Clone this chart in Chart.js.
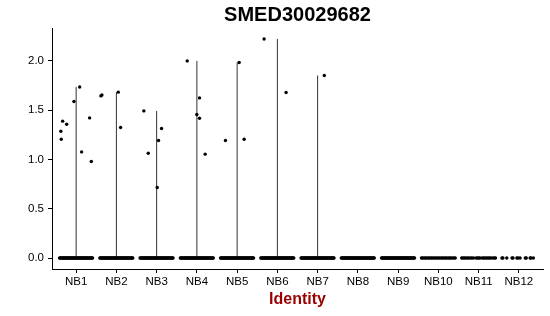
<!DOCTYPE html>
<html>
<head>
<meta charset="utf-8">
<script src="https://cdn.jsdelivr.net/npm/chart.js@4.4.1/dist/chart.umd.min.js"></script>
<style>
  html, body { margin: 0; padding: 0; background: #fff; }
  #wrap { width: 550px; height: 316px; }
</style>
</head>
<body>
<div id="wrap"><canvas id="c" width="550" height="316"></canvas></div>
<script>
// ---- data ----
const categories = ['NB1','NB2','NB3','NB4','NB5','NB6','NB7','NB8','NB9','NB10','NB11','NB12'];
const yTicks = [0, 0.5, 1.0, 1.5, 2.0];
const violinMax = [1.736, 1.683, 1.493, 2.0, 1.984, 2.223, 1.852, 0, 0, 0, 0, 0];

// non-zero cells: cluster index (1-based), expression value, jitter offset
const exprCluster = [1,1,1,1,1,1,1,1,1, 2,2,2,2, 3,3,3,3,3, 4,4,4,4,4, 5,5,5, 6,6, 7];
const exprValue = [1.206,1.287,1.389,1.358,1.588,1.736,1.077,1.422,0.980,
                   1.645,1.655,1.683,1.325,
                   1.493,1.064,1.193,1.314,0.716,
                   2.000,1.625,1.456,1.419,1.054,
                   1.193,1.984,1.206,
                   2.223,1.679,
                   1.852];
const exprJitter = [-0.37,-0.38,-0.335,-0.235,-0.055,0.087,0.136,0.335,0.377,
                    -0.385,-0.36,0.047,0.104,
                    -0.318,-0.208,0.047,0.122,0.015,
                    -0.24,0.065,-0.002,0.065,0.206,
                    -0.29,0.05,0.174,
                    -0.33,0.216,
                    0.166];

// zero-expression cells: jitter offsets per cluster
const denseJitter = [-0.412,-0.395,-0.377,-0.361,-0.342,-0.324,-0.309,-0.29,-0.272,-0.255,-0.238,
  -0.221,-0.203,-0.186,-0.168,-0.151,-0.133,-0.117,-0.098,-0.081,-0.063,-0.046,-0.029,-0.011,
  0.006,0.024,0.041,0.059,0.077,0.093,0.111,0.128,0.146,0.163,0.181,0.198,0.216,0.233,0.251,
  0.268,0.286,0.303,0.321,0.338,0.356,0.373,0.391,0.408];
const nb10Jitter = [-0.42,-0.39,-0.355,-0.32,-0.29,-0.25,-0.22,-0.18,-0.15,-0.11,-0.075,-0.04,
  -0.005,0.03,0.07,0.1,0.14,0.175,0.205,0.245,0.28,0.31,0.35,0.385,0.42];
const nb11Jitter = [-0.42,-0.39,-0.355,-0.32,-0.28,-0.245,-0.2,-0.165,-0.125,
  -0.06,-0.03,0.005,0.035,0.09,0.125,0.16,0.2,0.235,0.27,0.305,0.35,0.39,0.42];
const nb12Jitter = [-0.42,-0.395,-0.30,-0.17,-0.145,-0.05,-0.02,0.03,0.16,0.185,0.28,0.30,0.36];
const zeroJitter = [denseJitter,denseJitter,denseJitter,denseJitter,denseJitter,denseJitter,
  denseJitter,denseJitter,denseJitter,nb10Jitter,nb11Jitter,nb12Jitter];

// ---- build datasets ----
const FONT = '"Liberation Sans", Arial, Helvetica, sans-serif';
Chart.defaults.font.family = FONT;

const zeroPts = [];
zeroJitter.forEach((arr, i) => arr.forEach(o => zeroPts.push({x: i + 1 + o, y: 0})));
const exprPts = exprValue.map((v, k) => ({x: exprCluster[k] + exprJitter[k], y: v}));

const datasets = [
  {type: 'scatter', data: exprPts, backgroundColor: '#000', borderWidth: 0, pointRadius: 1.7, order: 0},
  {type: 'scatter', data: zeroPts, backgroundColor: '#000', borderWidth: 0, pointRadius: 1.7, order: 1}
];
violinMax.forEach((m, i) => {
  if (m > 0) {
    datasets.push({
      type: 'line',
      data: [{x: i + 1, y: 0}, {x: i + 1, y: m}],
      borderColor: '#333', borderWidth: 1, pointRadius: 0, fill: false, order: 2
    });
  }
});

new Chart(document.getElementById('c'), {
  data: {datasets},
  options: {
    responsive: false,
    animation: false,
    devicePixelRatio: 1,
    layout: {padding: {left: 0, right: 7, top: 0, bottom: 0}},
    plugins: {legend: {display: false}, tooltip: {enabled: false}, title: {display: false}},
    scales: {
      xTop: {
        type: 'linear', position: 'top', min: 0.4, max: 12.6,
        ticks: {display: false}, grid: {display: false}, border: {display: false},
        title: {display: true, text: 'SMED30029682', color: '#000',
                font: {size: 20, weight: 'bold', family: FONT}, padding: {top: 3.5, bottom: 0}},
        afterFit(s) { s.height = 28; }
      },
      x: {
        type: 'linear', position: 'bottom', min: 0.4, max: 12.6,
        afterBuildTicks(s) { s.ticks = categories.map((c, i) => ({value: i + 1})); },
        ticks: {
          autoSkip: false, maxRotation: 0, color: '#000', padding: 2,
          font: {size: 11.5, family: FONT},
          callback: (v) => categories[Math.round(v) - 1]
        },
        grid: {display: true, drawOnChartArea: false, drawTicks: true, tickLength: 4, color: '#000', lineWidth: 1},
        border: {display: true, color: '#000', width: 1},
        title: {display: true, text: 'Identity', color: '#990000',
                font: {size: 16, weight: 'bold', family: FONT}, padding: {top: 0, bottom: 7}},
        afterFit(s) { s.height = 47; }
      },
      y: {
        type: 'linear', position: 'left', min: -0.111, max: 2.334,
        afterBuildTicks(s) { s.ticks = yTicks.map(v => ({value: v})); },
        ticks: {color: '#000', padding: 4, font: {size: 11.5, family: FONT},
                callback: (v) => Number(v).toFixed(1)},
        grid: {display: true, drawOnChartArea: false, drawTicks: true, tickLength: 4, color: '#000', lineWidth: 1},
        border: {display: true, color: '#000', width: 1},
        afterFit(s) { s.width = 52; }
      }
    }
  }
});
</script>
</body>
</html>
